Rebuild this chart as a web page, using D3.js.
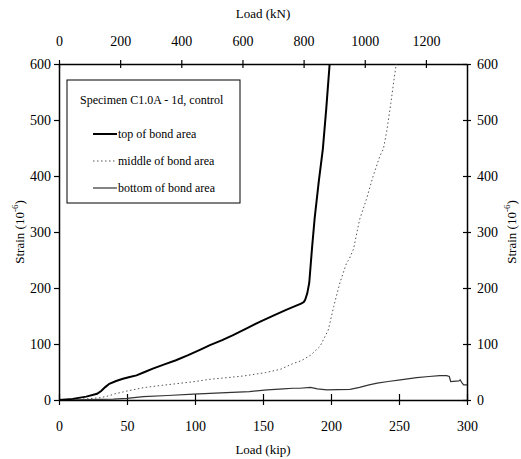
<!DOCTYPE html>
<html>
<head>
<meta charset="utf-8">
<script src="https://cdn.jsdelivr.net/npm/d3@7"></script>
<style>
  body { margin: 0; background: #fff; }
  svg { font-family: "Liberation Serif", "Times New Roman", serif; }
</style>
</head>
<body>
<svg></svg>
<script>
// Load (kip) vs strain (10^-6) for three gauges
const topBond = [[0,0],[10,2],[20,6],[28,11],[31,16],[34,23],[37,29],[42,34],[47,38],[52,41],[57,44],[63,50],[69,56],[78,64],[86,71],[95,80],[104,90],[111,98],[120,107],[128,116],[138,128],[148,140],[158,151],[167,161],[174,168],[178,172],[180,175],[181,179],[182.5,190],[184,209],[186,270],[188,325],[191,390],[194,448],[196.5,520],[199,600]];
const midBond = [[0,0],[10,1],[20,2],[30,4],[36,7],[41,11],[50,16],[62,22],[75,26],[86,29],[100,33],[111,37],[124,40],[136,43],[152,49],[163,55],[172,65],[178,70],[185,80],[192,96],[198,125],[202,167],[206.5,209],[211.5,245],[213,250],[216.5,269],[221,322],[226,358],[231,400],[236,436],[238.5,448],[241,480],[244,530],[246.5,575],[248,600]];
const botBond = [[0,0],[20,0.5],[40,1.5],[50,3],[62,6],[80,8],[99,10.5],[123,13],[140,15],[153,18],[165,20],[172,21],[177,21],[185,22.5],[190,20],[197,18],[205,18.5],[214,19],[221,22.5],[228,27],[234,30],[242,33],[251,36],[263,40],[272,42],[280,43.5],[285,43.5],[287,42],[288,33],[294,34],[295,36],[296.5,30],[297.5,27],[300,27]];

const kipTicks = [0, 50, 100, 150, 200, 250, 300];
const knTicks = [0, 200, 400, 600, 800, 1000, 1200];
const strainTicks = [0, 100, 200, 300, 400, 500, 600];
const legendItems = ["top of bond area", "middle of bond area", "bottom of bond area"];

const width = 521, height = 459;
const x0 = 59, x1 = 467, y0 = 400, y1 = 64;

const svg = d3.select('svg').attr('width', width).attr('height', height);

const x = d3.scaleLinear().domain([0, 300]).range([x0, x1]);
const xKn = d3.scaleLinear().domain([0, 300 * 4.448]).range([x0, x1]);
const y = d3.scaleLinear().domain([0, 600]).range([y0, y1]);

svg.append('defs').append('clipPath').attr('id', 'plot')
  .append('rect').attr('x', x0).attr('y', y1 - 1).attr('width', x1 - x0).attr('height', y0 - y1 + 1);

const fmt = d3.format('d');

// axes
const bottom = svg.append('g').attr('transform', 'translate(0,' + y0 + ')')
  .call(d3.axisBottom(x).tickValues(kipTicks).tickFormat(fmt).tickSize(5).tickSizeOuter(0).tickPadding(16));
bottom.selectAll('.tick line').attr('y1', -6);

const topAx = svg.append('g').attr('transform', 'translate(0,' + y1 + ')')
  .call(d3.axisTop(xKn).tickValues(knTicks).tickFormat(fmt).tickSize(4).tickSizeOuter(0).tickPadding(14));
topAx.selectAll('.tick line').attr('y1', 4);

const left = svg.append('g').attr('transform', 'translate(' + x0 + ',0)')
  .call(d3.axisLeft(y).tickValues(strainTicks).tickFormat(fmt).tickSize(5).tickSizeOuter(0).tickPadding(3));

const right = svg.append('g').attr('transform', 'translate(' + x1 + ',0)')
  .call(d3.axisRight(y).tickValues(strainTicks).tickFormat(fmt).tickSize(4).tickSizeOuter(0).tickPadding(6));
right.selectAll('.tick line').attr('x1', -4);

svg.selectAll('.domain').attr('stroke', '#000').attr('stroke-width', 1.5);
svg.selectAll('.tick line').attr('stroke', '#000').attr('stroke-width', 1.2);
svg.selectAll('.tick text').attr('font-size', 14).attr('fill', '#000')
  .attr('font-family', '"Liberation Serif", serif');

// axis titles
svg.append('text').attr('x', (x0 + x1) / 2).attr('y', 454).attr('text-anchor', 'middle')
  .attr('font-size', 13).text('Load (kip)');
svg.append('text').attr('x', (x0 + x1) / 2).attr('y', 18).attr('text-anchor', 'middle')
  .attr('font-size', 13).text('Load (kN)');

function strainLabel(cx) {
  const t = svg.append('text')
    .attr('transform', 'translate(' + cx + ',' + ((y0 + y1) / 2) + ') rotate(-90)')
    .attr('text-anchor', 'middle').attr('font-size', 13);
  t.append('tspan').text('Strain (10');
  t.append('tspan').attr('dy', -6).attr('font-size', 9).text('-6');
  t.append('tspan').attr('dy', 6).text(')');
}
strainLabel(24);
strainLabel(516);

// data lines
const line = d3.line().x(d => x(d[0])).y(d => y(d[1]));
const plot = svg.append('g').attr('clip-path', 'url(#plot)');

plot.append('path').datum(botBond).attr('d', line)
  .attr('fill', 'none').attr('stroke', '#333').attr('stroke-width', 1.2);
plot.append('path').datum(midBond).attr('d', line)
  .attr('fill', 'none').attr('stroke', '#555').attr('stroke-width', 1)
  .attr('stroke-dasharray', '1.5,2.5');
plot.append('path').datum(topBond).attr('d', line)
  .attr('fill', 'none').attr('stroke', '#000').attr('stroke-width', 2);

// legend
const lg = svg.append('g');
lg.append('rect').attr('x', 67).attr('y', 80).attr('width', 173).attr('height', 123)
  .attr('fill', '#fff').attr('stroke', '#000').attr('stroke-width', 1);
lg.append('text').attr('x', 80).attr('y', 104).attr('font-size', 12)
  .text('Specimen C1.0A - 1d, control');

const styles = [
  {stroke: '#000', width: 2, dash: null},
  {stroke: '#555', width: 1, dash: '1.5,2.5'},
  {stroke: '#333', width: 1.2, dash: null}
];
legendItems.forEach((name, i) => {
  const ly = 134 + i * 27;
  lg.append('line').attr('x1', 93).attr('x2', 117).attr('y1', ly).attr('y2', ly)
    .attr('stroke', styles[i].stroke).attr('stroke-width', styles[i].width)
    .attr('stroke-dasharray', styles[i].dash);
  lg.append('text').attr('x', 118).attr('y', ly + 4).attr('font-size', 12).text(name);
});
</script>
</body>
</html>
